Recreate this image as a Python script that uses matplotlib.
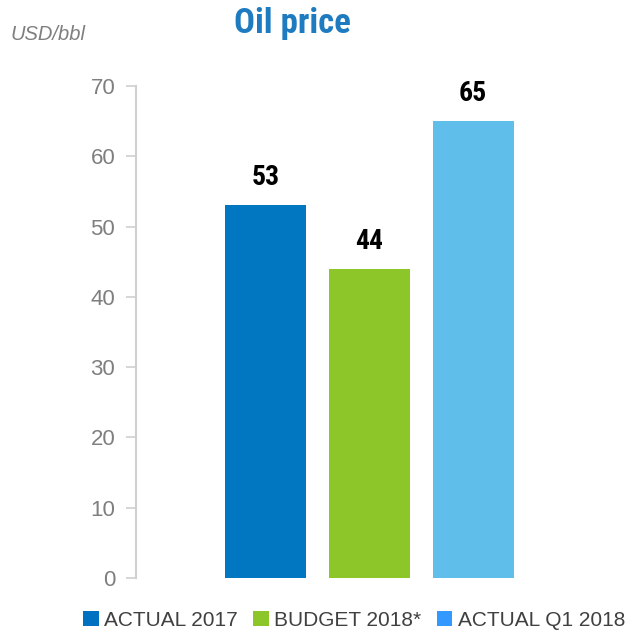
import matplotlib
matplotlib.use("Agg")
import matplotlib.pyplot as plt
from matplotlib.patches import Patch

# data
categories = ["ACTUAL 2017", "BUDGET 2018*", "ACTUAL Q1 2018"]
values = [53, 44, 65]
bar_colors = ["#0077C0", "#8CC629", "#60BEEB"]
legend_colors = ["#0070C0", "#8CC629", "#3399FF"]
yticks = [0, 10, 20, 30, 40, 50, 60, 70]

NARROW = ["Liberation Sans Narrow", "Arial Narrow", "Roboto Condensed",
          "Archivo Narrow", "PT Sans Narrow", "Liberation Sans", "DejaVu Sans"]
REG = ["Liberation Sans", "DejaVu Sans"]

fig = plt.figure(figsize=(6.33, 6.34), dpi=100, facecolor="white")
ax = fig.add_axes([136 / 633, 56 / 634, 441 / 633, 492 / 634])

x = range(len(values))
bars = ax.bar(x, values, width=0.78, color=bar_colors)
for xi, v in zip(x, values):
    ax.text(xi, v + 2.0, str(v), ha="center", va="bottom", fontsize=20,
            fontweight="bold", family=NARROW, color="black")

ax.set_xlim(-1.25, 3.0)
ax.set_ylim(0, 70)
ax.set_yticks(yticks)
ax.set_yticklabels([str(t) for t in yticks], family=REG, fontsize=16, color="#7F7F7F")
ax.set_xticks([])
for s in ("top", "right", "bottom"):
    ax.spines[s].set_visible(False)
ax.spines["left"].set_color("#D0D0D0")
ax.spines["left"].set_linewidth(1.5)
ax.tick_params(axis="y", length=7, width=1.2, color="#D0D0D0", pad=8)

fig.text(292 / 633, 1 - 24 / 634, "Oil price", ha="center", va="center",
         fontsize=25, fontweight="bold", family=NARROW, color="#1F7BC0")
fig.text(10 / 633, 1 - 35 / 634, "USD/bbl", ha="left", va="center",
         fontsize=14.5, style="italic", family=REG, color="#7F7F7F")

handles = [Patch(facecolor=c, edgecolor="none") for c in legend_colors]
fig.legend(handles, categories, loc="center", bbox_to_anchor=(354 / 633, 1 - 620 / 634),
           ncol=3, frameon=False, prop={"family": REG, "size": 15},
           labelcolor="#404040", handlelength=0.75, handleheight=0.75,
           handletextpad=0.25, columnspacing=0.75)

fig.savefig("out.png", dpi=100, facecolor="white")
